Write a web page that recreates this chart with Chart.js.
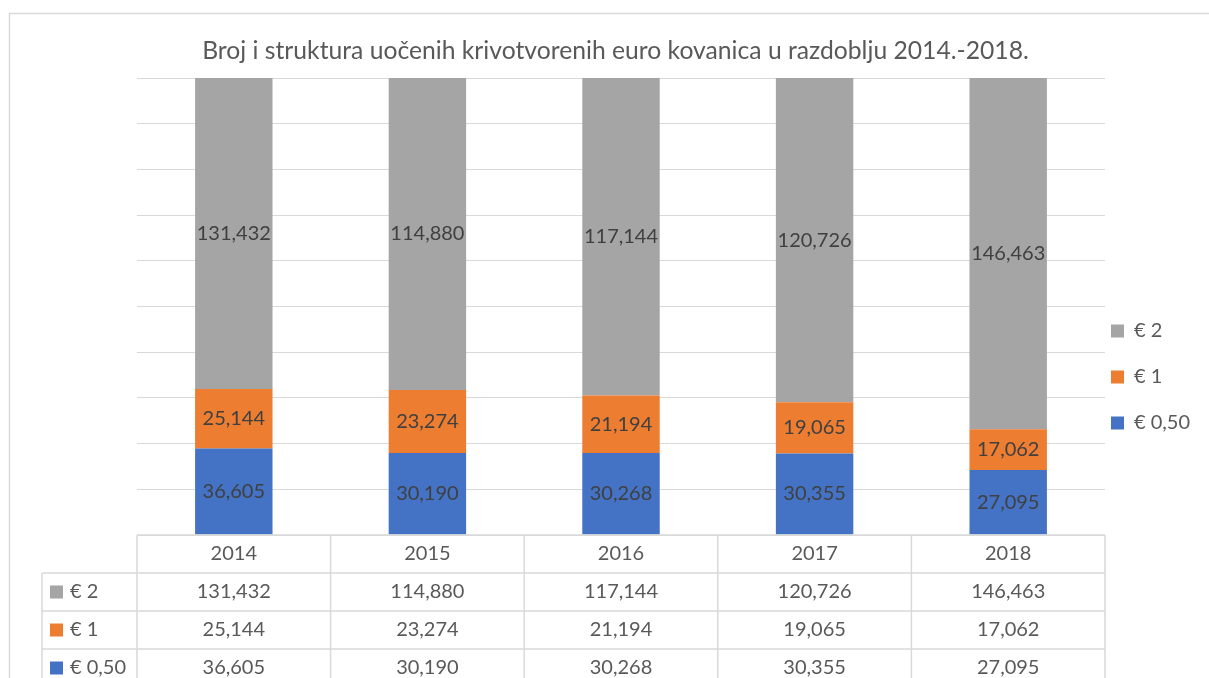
<!DOCTYPE html>
<html>
<head>
<meta charset="utf-8">
<title>Krivotvorene euro kovanice 2014.-2018.</title>
<script src="https://cdn.jsdelivr.net/npm/chart.js@4/dist/chart.umd.min.js"></script>
<style>
    body { margin: 0; background: #fff; }
    canvas { display: block; }
</style>
</head>
<body>
<canvas id="myChart" width="1209" height="678"></canvas>
<script>
const years = ['2014', '2015', '2016', '2017', '2018'];
const coins050 = [36605, 30190, 30268, 30355, 27095];
const coins1 = [25144, 23274, 21194, 19065, 17062];
const coins2 = [131432, 114880, 117144, 120726, 146463];
const seriesNames = ['€ 0,50', '€ 1', '€ 2'];
const seriesColors = ['#4472c4', '#ed7d31', '#a5a5a5'];
const titleText = 'Broj i struktura uočenih krivotvorenih euro kovanica u razdoblju 2014.-2018.';

const fontFamily = 'Lato, "Noto Sans", sans-serif';
const gridColor = '#d9d9d9';

const totals = years.map((y, i) => coins050[i] + coins1[i] + coins2[i]);
const toPercent = arr => arr.map((v, i) => v / totals[i] * 100);
const rawValues = [coins050, coins1, coins2];

const fmt = v => v.toLocaleString('en-US');

// frame round the whole chart, like the Excel chart border
const framePlugin = {
    id: 'frame',
    beforeDraw(chart) {
        const ctx = chart.ctx;
        ctx.save();
        ctx.fillStyle = '#fff';
        ctx.fillRect(0, 0, chart.width, chart.height);
        ctx.strokeStyle = gridColor;
        ctx.lineWidth = 1.5;
        ctx.strokeRect(9.5, 13.5, chart.width + 50, chart.height + 50);
        ctx.restore();
    }
};

// legend sits close to the plot, a bit below the middle
const legendPlace = {
    id: 'legendPlace',
    afterLayout(chart) {
        const lg = chart.legend;
        const area = chart.chartArea;
        lg.left = area.right - 20;
        lg.top = area.bottom - 240;
    }
};

const segmentLabels = {
    id: 'segmentLabels',
    afterDatasetsDraw(chart) {
        const ctx = chart.ctx;
        ctx.save();
        ctx.font = '20px ' + fontFamily;
        ctx.fillStyle = '#404040';
        ctx.textAlign = 'center';
        ctx.textBaseline = 'middle';
        chart.data.datasets.forEach((ds, d) => {
            const meta = chart.getDatasetMeta(d);
            meta.data.forEach((bar, i) => {
                ctx.fillText(fmt(rawValues[d][i]), bar.x, (bar.y + bar.base) / 2);
            });
        });
        ctx.restore();
    }
};

// data table under the plot, columns follow the category scale
const dataTable = {
    id: 'dataTable',
    afterDraw(chart) {
        const ctx = chart.ctx;
        const x = chart.scales.x;
        const area = chart.chartArea;
        const colW = (area.right - area.left) / years.length;
        const rowH = 38;
        const labelLeft = 42;
        const top = area.bottom;

        ctx.save();
        ctx.strokeStyle = gridColor;
        ctx.lineWidth = 1.5;
        ctx.beginPath();
        ctx.moveTo(area.left, top);
        ctx.lineTo(area.right, top);
        for (let r = 1; r <= 4; r++) {
            ctx.moveTo(labelLeft, top + r * rowH);
            ctx.lineTo(area.right, top + r * rowH);
        }
        for (let i = 0; i <= years.length; i++) {
            const px = area.left + i * colW;
            ctx.moveTo(px, top);
            ctx.lineTo(px, top + 4 * rowH);
        }
        ctx.moveTo(labelLeft, top + rowH);
        ctx.lineTo(labelLeft, top + 4 * rowH);
        ctx.stroke();

        ctx.font = '20px ' + fontFamily;
        ctx.fillStyle = '#595959';
        ctx.textAlign = 'center';
        ctx.textBaseline = 'middle';
        years.forEach((y, i) => {
            ctx.fillText(y, x.getPixelForValue(i), top + rowH / 2);
        });

        // rows go € 2, € 1, € 0,50
        for (let r = 0; r < 3; r++) {
            const s = 2 - r;
            const cy = top + (r + 1) * rowH + rowH / 2;
            ctx.fillStyle = seriesColors[s];
            ctx.fillRect(labelLeft + 8, cy - 6.5, 13, 13);
            ctx.fillStyle = '#595959';
            ctx.textAlign = 'left';
            ctx.fillText(seriesNames[s], labelLeft + 28, cy);
            ctx.textAlign = 'center';
            rawValues[s].forEach((v, i) => {
                ctx.fillText(fmt(v), x.getPixelForValue(i), cy);
            });
        }
        ctx.restore();
    }
};

const ctx = document.getElementById('myChart').getContext('2d');
const myChart = new Chart(ctx, {
    type: 'bar',
    data: {
        labels: years,
        datasets: [
            { label: seriesNames[0], data: toPercent(coins050), backgroundColor: seriesColors[0] },
            { label: seriesNames[1], data: toPercent(coins1), backgroundColor: seriesColors[1] },
            { label: seriesNames[2], data: toPercent(coins2), backgroundColor: seriesColors[2] }
        ]
    },
    options: {
        responsive: false,
        animation: false,
        datasets: {
            bar: { categoryPercentage: 1, barPercentage: 0.4, borderWidth: 0 }
        },
        layout: { padding: { left: 22, right: 0, top: 0, bottom: 143 } },
        scales: {
            x: { stacked: true, display: false },
            y: {
                stacked: true,
                min: 0,
                max: 100,
                ticks: { display: false, stepSize: 10 },
                border: { display: false },
                grid: { color: gridColor, lineWidth: 1, drawTicks: false },
                afterFit: s => { s.width = 115; }
            }
        },
        plugins: {
            title: {
                display: true,
                text: titleText,
                color: '#595959',
                font: { family: fontFamily, size: 24.7, weight: 'normal' },
                padding: { top: 36.2, bottom: 12.2 }
            },
            legend: {
                position: 'right',
                align: 'start',
                reverse: true,
                maxWidth: 104,
                labels: {
                    color: '#595959',
                    font: { family: fontFamily, size: 20 },
                    boxWidth: 13,
                    boxHeight: 13,
                    padding: 26
                }
            },
            tooltip: { enabled: false }
        }
    },
    plugins: [framePlugin, legendPlace, segmentLabels, dataTable]
});
</script>
</body>
</html>
